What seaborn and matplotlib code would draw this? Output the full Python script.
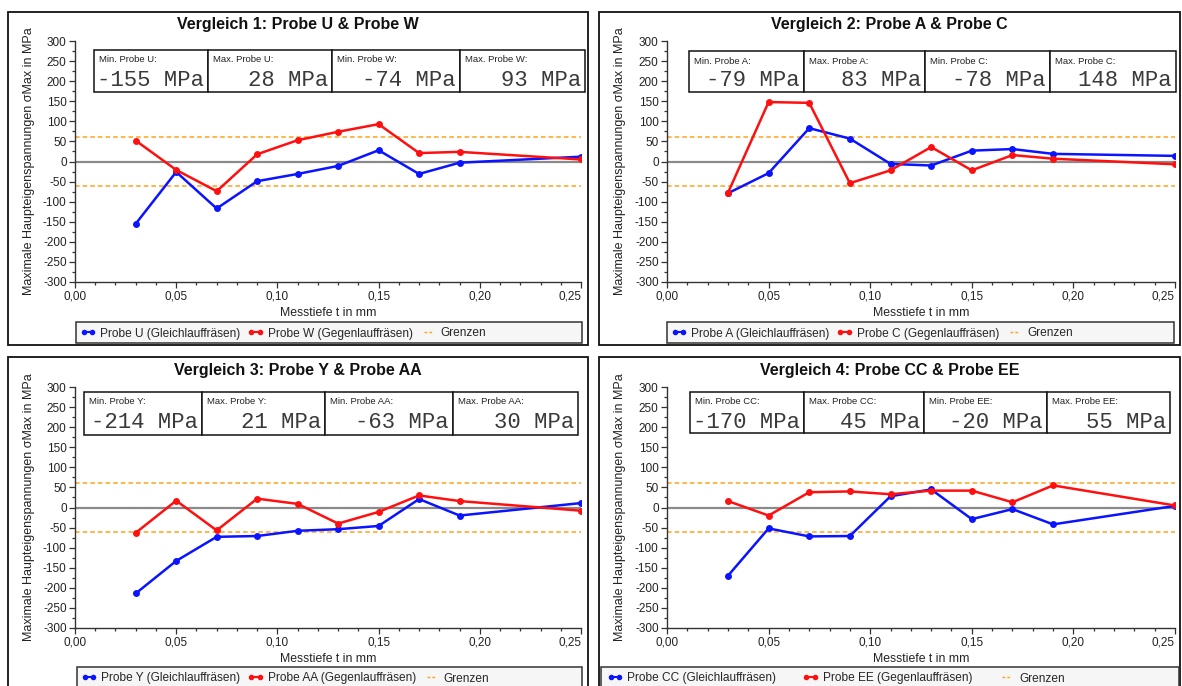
import matplotlib
matplotlib.use("Agg")
import matplotlib.pyplot as plt
from matplotlib.patches import Rectangle
from matplotlib.lines import Line2D
from matplotlib.ticker import MultipleLocator, FixedLocator, FixedFormatter
import pandas as pd
import seaborn as sns

# ---- data -------------------------------------------------------------
depth = [0.03, 0.05, 0.07, 0.09, 0.11, 0.13, 0.15, 0.17, 0.19, 0.25]

probe_u = [-155, -26, -117, -49, -31, -11, 28, -31, -3, 12]
probe_w = [52, -21, -74, 18, 53, 74, 93, 21, 24, 5]
probe_a = [-79, -29, 83, 57, -6, -10, 27, 31, 19, 14]
probe_c = [-78, 148, 146, -54, -22, 36, -22, 16, 7, -7]
probe_y = [-214, -133, -73, -71, -58, -54, -46, 21, -20, 11]
probe_aa = [-63, 17, -57, 22, 9, -40, -11, 30, 16, -8]
probe_cc = [-170, -52, -72, -71, 28, 45, -29, -4, -42, 4]
probe_ee = [16, -20, 38, 40, 33, 42, 42, 13, 55, 5]

limit = 60  # tolerance band (+/- MPa)

comparisons = [
    ("Vergleich 1: Probe U & Probe W", "U", probe_u, "W", probe_w),
    ("Vergleich 2: Probe A & Probe C", "A", probe_a, "C", probe_c),
    ("Vergleich 3: Probe Y & Probe AA", "Y", probe_y, "AA", probe_aa),
    ("Vergleich 4: Probe CC & Probe EE", "CC", probe_cc, "EE", probe_ee),
]

x_ticks = [0.00, 0.05, 0.10, 0.15, 0.20, 0.25]
x_tick_labels = ["0,00", "0,05", "0,10", "0,15", "0,20", "0,25"]
y_ticks = list(range(-300, 301, 50))

# ---- layout (pixel boxes on a 1182 x 686 canvas) ------------------------
W, H = 1182, 686
layout = [
    dict(frame=(8, 12, 588, 345), axes=(75, 41, 581, 282),
         boxes=[94, 208, 332, 460, 585], box_y=(50, 92),
         leg=(76, 322, 582, 343), leg_x=80, colsp=0.6),
    dict(frame=(599, 12, 1180, 345), axes=(667, 41, 1175, 282),
         boxes=[689, 804, 925, 1050, 1176], box_y=(51, 92),
         leg=(667, 322, 1174, 343), leg_x=671, colsp=0.6),
    dict(frame=(8, 357, 588, 700), axes=(75, 387, 581, 628),
         boxes=[84, 202, 325, 453, 578], box_y=(392, 435),
         leg=(77, 667, 582, 700), leg_x=81, colsp=0.6),
    dict(frame=(599, 357, 1180, 700), axes=(667, 387, 1175, 628),
         boxes=[690, 804, 924, 1047, 1170], box_y=(392, 433),
         leg=(601, 667, 1179, 700), leg_x=607, colsp=2.2),
]

BLUE = "#0a14ff"
RED = "#ff1010"
ORANGE = "#ffa31a"

sns.set_theme(style="ticks")
plt.rcParams["font.family"] = ["Liberation Sans", "DejaVu Sans"]
plt.rcParams["axes.unicode_minus"] = False


def fx(px):
    return px / W


def fy(py):
    return 1 - py / H


fig = plt.figure(figsize=(W / 100, H / 100), dpi=100)
fig.patch.set_facecolor("white")

for (title, n1, v1, n2, v2), lay in zip(comparisons, layout):
    # panel frame
    x0, y0, x1, y1 = lay["frame"]
    fig.add_artist(Rectangle((fx(x0), fy(y1)), fx(x1) - fx(x0), fy(y0) - fy(y1),
                             transform=fig.transFigure, fill=False,
                             ec="#111111", lw=1.3, zorder=0))
    fig.text(fx((x0 + x1) / 2), fy(y0 + 13), title, ha="center", va="center",
             fontsize=11.5, fontweight="bold", color="#111111")

    ax0, ay0, ax1, ay1 = lay["axes"]
    ax = fig.add_axes([fx(ax0), fy(ay1), fx(ax1) - fx(ax0), fy(ay0) - fy(ay1)])
    ax.set_facecolor("none")

    lab1 = f"Probe {n1} (Gleichlauffräsen)"
    lab2 = f"Probe {n2} (Gegenlauffräsen)"
    df = pd.DataFrame({
        "Messtiefe": depth + depth,
        "Spannung": v1 + v2,
        "Probe": [lab1] * len(depth) + [lab2] * len(depth),
    })

    ax.axhline(0, color="#8a8a8a", lw=1.6, zorder=1)
    ax.axhline(limit, color=ORANGE, lw=1.1, ls=(0, (3, 2)), zorder=1)
    ax.axhline(-limit, color=ORANGE, lw=1.1, ls=(0, (3, 2)), zorder=1)

    sns.lineplot(data=df, x="Messtiefe", y="Spannung", hue="Probe",
                 palette={lab1: BLUE, lab2: RED}, marker="o", markersize=5,
                 markeredgewidth=0, linewidth=1.8, legend=False, ax=ax,
                 zorder=3)

    ax.set_xlim(0, 0.25)
    ax.set_ylim(-300, 300)
    ax.xaxis.set_major_locator(FixedLocator(x_ticks))
    ax.xaxis.set_major_formatter(FixedFormatter(x_tick_labels))
    ax.xaxis.set_minor_locator(MultipleLocator(0.01))
    ax.yaxis.set_major_locator(FixedLocator(y_ticks))
    ax.yaxis.set_minor_locator(MultipleLocator(25))
    ax.tick_params(which="major", length=4, width=0.9, colors="#333333",
                   labelcolor="#222222", labelsize=8.5, pad=2)
    ax.tick_params(which="minor", length=2.5, width=0.9, colors="#333333")
    # keep the last depth label inside the panel
    ax.get_xticklabels()[-1].set_horizontalalignment("right")
    ax.get_xticklabels()[-1].set_x(0.25)
    sns.despine(ax=ax)
    for s in ("left", "bottom"):
        ax.spines[s].set_color("#333333")
        ax.spines[s].set_linewidth(1.0)

    ax_w = ax1 - ax0
    ax.set_xlabel("Messtiefe t in mm", fontsize=8.8, color="#222222")
    ax.xaxis.set_label_coords(0.5, -(307 - 282) / 241)
    ax.set_ylabel("Maximale Haupteigenspannungen σMax in MPa", fontsize=9,
                  color="#222222")
    ax.yaxis.set_label_coords((35 + (x0 - 8) - ax0) / ax_w, 0.5)

    # min / max info boxes
    bx = lay["boxes"]
    bt, bb = lay["box_y"]
    infos = [
        (f"Min. Probe {n1}:", min(v1)),
        (f"Max. Probe {n1}:", max(v1)),
        (f"Min. Probe {n2}:", min(v2)),
        (f"Max. Probe {n2}:", max(v2)),
    ]
    for i, (label, val) in enumerate(infos):
        l, r = bx[i], bx[i + 1]
        fig.add_artist(Rectangle((fx(l), fy(bb)), fx(r) - fx(l), fy(bt) - fy(bb),
                                 transform=fig.transFigure, fc="white",
                                 ec="#111111", lw=1.1, zorder=5))
        fig.text(fx(l + 5), fy(bt + 10), label, ha="left", va="center",
                 fontsize=6.8, color="#222222", zorder=6)
        fig.text(fx(r - 4), fy(bt + 30), f"{val:.0f} MPa", ha="right",
                 va="center", fontsize=16, family="Liberation Mono",
                 color="#3a3a3a", zorder=6)

    # legend strip
    lx0, ly0, lx1, ly1 = lay["leg"]
    fig.add_artist(Rectangle((fx(lx0), fy(ly1)), fx(lx1) - fx(lx0), fy(ly0) - fy(ly1),
                             transform=fig.transFigure, fc="#f6f6f6",
                             ec="#333333", lw=1.1, zorder=0))
    handles = [
        Line2D([], [], color=BLUE, marker="o", ms=4, mew=0, lw=1.5),
        Line2D([], [], color=RED, marker="o", ms=4, mew=0, lw=1.5),
        Line2D([], [], color=ORANGE, lw=1.0, ls=(0, (2, 1.5))),
    ]
    fig.legend(handles, [lab1, lab2, "Grenzen"], loc="center left",
               bbox_to_anchor=(fx(lay["leg_x"]), fy(ly0 + 11.5)),
               bbox_transform=fig.transFigure, ncol=3, frameon=False,
               fontsize=8.6, handlelength=1.3, handletextpad=0.4,
               columnspacing=lay["colsp"], borderpad=0, borderaxespad=0,
               numpoints=2)

fig.savefig("out.png", dpi=100, facecolor="white")
